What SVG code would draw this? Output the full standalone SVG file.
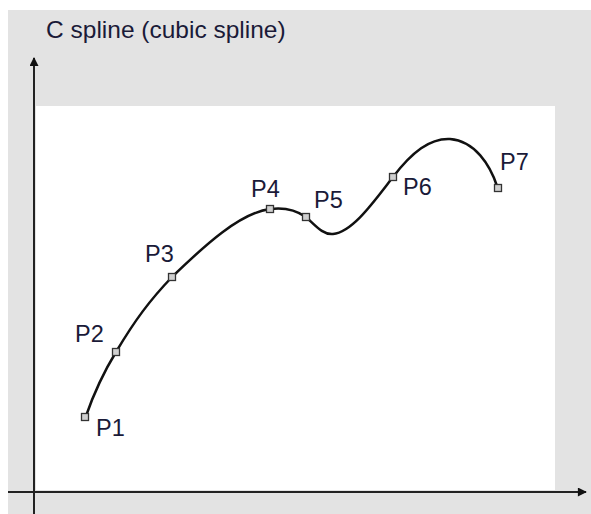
<svg xmlns="http://www.w3.org/2000/svg" width="591" height="514" viewBox="0 0 591 514">
<defs>
<style>
.lbl{font-family:"Liberation Sans",Arial,sans-serif;font-size:23.5px;fill:#1a1a38}
.pt{fill:#d0d0d0;stroke:#333;stroke-width:1.3}
.ax{stroke:#222;stroke-width:2;fill:none}
</style>
<marker id="ah2" viewBox="0 0 10 10" refX="9" refY="5" markerWidth="14" markerHeight="9" markerUnits="userSpaceOnUse" orient="auto">
<path d="M0,0 L10,5 L0,10 z" fill="#111"/>
</marker>
</defs>
<rect x="0" y="0" width="591" height="514" fill="#fff"/>
<rect x="8" y="10" width="583" height="504" fill="#e3e3e3"/>
<rect x="36" y="106" width="519" height="384" fill="#fff"/>
<text class="lbl" x="46" y="38" style="font-size:24.5px">C spline (cubic spline)</text>
<g id="connectors">
<line class="ax" x1="8" y1="492" x2="586" y2="492" marker-end="url(#ah2)"/>
<line class="ax" x1="34" y1="514" x2="34" y2="58" marker-end="url(#ah2)"/>
<path id="spline" d="M86 416 C95 390,105 370,116 352 C135 320,150 300,172 277 C205 245,240 213,270 209 C285 207,296 210,306 217 C316 226,323 235,333 234 C353 232,375 200,393 177 C412 152,430 138,450 139 C475 141,490 165,497 186" fill="none" stroke="#111" stroke-width="2.5"/>
</g>
<g id="P1"><rect class="pt" x="81.5" y="413.5" width="7" height="7"/><text class="lbl" x="96" y="436">P1</text></g>
<g id="P2"><rect class="pt" x="112.5" y="348.5" width="7" height="7"/><text class="lbl" x="75" y="342">P2</text></g>
<g id="P3"><rect class="pt" x="168.5" y="273.5" width="7" height="7"/><text class="lbl" x="145" y="262">P3</text></g>
<g id="P4"><rect class="pt" x="266.5" y="205.5" width="7" height="7"/><text class="lbl" x="251" y="197">P4</text></g>
<g id="P5"><rect class="pt" x="302.5" y="213.5" width="7" height="7"/><text class="lbl" x="314" y="208">P5</text></g>
<g id="P6"><rect class="pt" x="389.5" y="173.5" width="7" height="7"/><text class="lbl" x="403" y="195">P6</text></g>
<g id="P7"><rect class="pt" x="494.5" y="184.5" width="7" height="7"/><text class="lbl" x="500" y="170">P7</text></g>
</svg>
